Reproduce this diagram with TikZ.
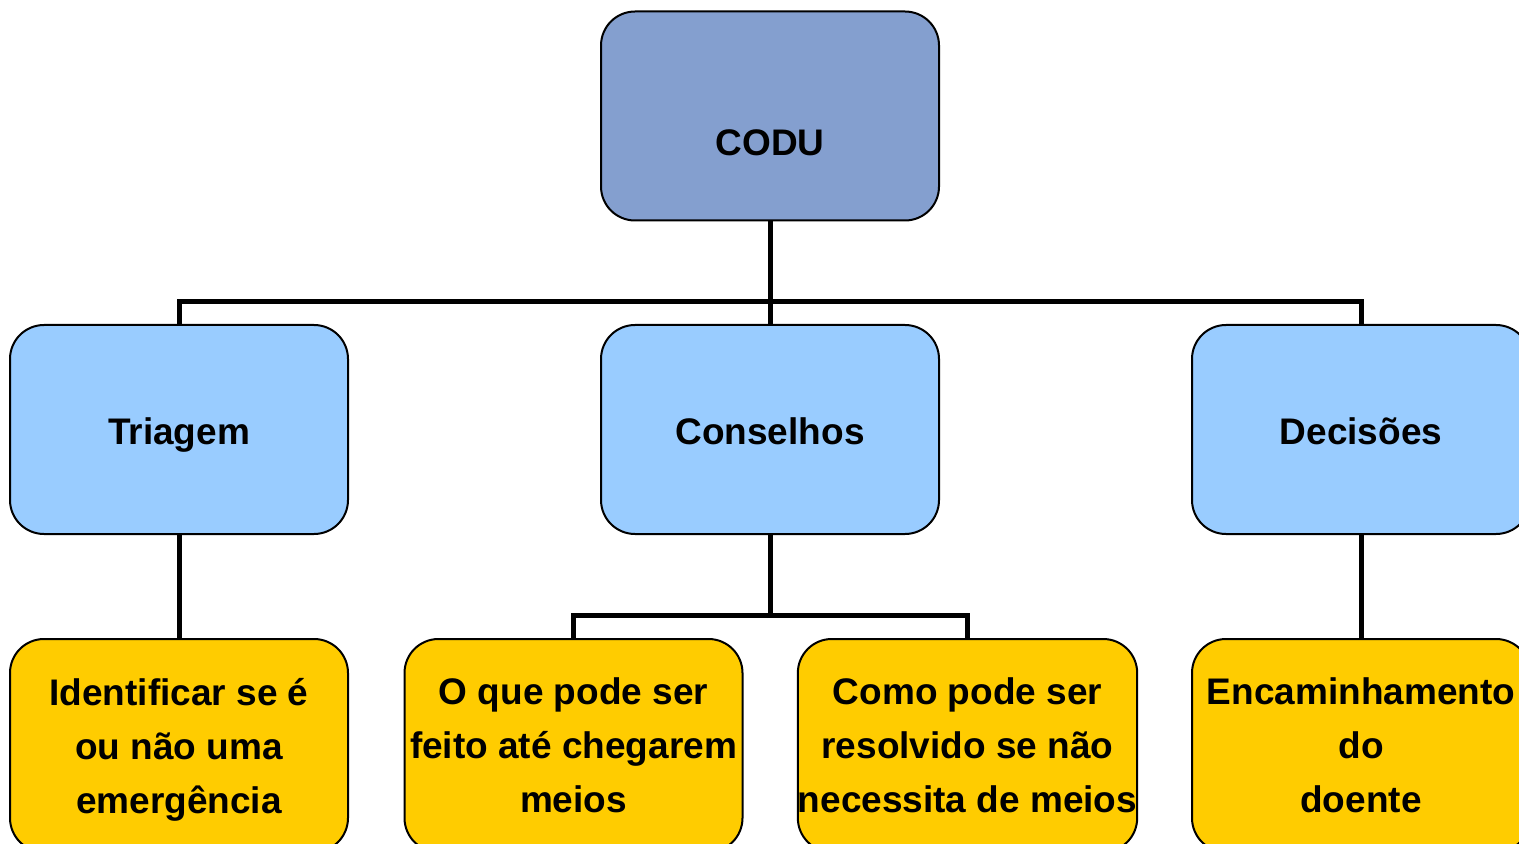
\documentclass[tikz,border=0pt]{standalone}
\usepackage{fontspec}
\setmainfont{Liberation Sans}
\usetikzlibrary{positioning}

\definecolor{codublue}{HTML}{849FCF}
\definecolor{lightblue}{HTML}{99CCFF}
\definecolor{goldbox}{HTML}{FFCC00}

\tikzset{
  box/.style={draw, line width=1pt, rounded corners=17pt, minimum width=169pt,
    minimum height=104.5pt, inner xsep=0pt, align=center,
    font=\fontsize{18.5}{27}\selectfont\bfseries},
  topbox/.style={box, fill=codublue},
  midbox/.style={box, fill=lightblue, text height=18.8pt, text depth=4pt},
  leafbox/.style={box, fill=goldbox, text depth=0pt, minimum height=106.5pt},
  conn/.style={line width=2.5pt}
}

\begin{document}
\begin{tikzpicture}[x=0.5pt,y=-0.5pt]
		\useasboundingbox (0,0) rectangle (1519,844);
		\clip (0,0) rectangle (1519,844);

		% top
		\draw (770,116) node[topbox] (codu) {};
		\node[font=\fontsize{18.5}{27}\selectfont\bfseries] (codutext) at (770,143) {CODU};

		% second row
		\draw (179,429.5) node[midbox] (triagem) {Triagem};
		\draw (770,429.5) node[midbox] (conselhos) {Conselhos};
		\draw (1361,429.5) node[midbox] (decisoes) {Decisões};

		% leaves
		\draw (179,745.5) node[leafbox] (identificar) {Identificar se é\\ou não uma\\emergência};
		\draw (573.5,745.5) node[leafbox] (oque) {O que pode ser\\feito até chegarem\\meios};
		\draw (967.5,745.5) node[leafbox] (como) {Como pode ser\\resolvido se não\\necessita de meios};
		\draw (1361,745.5) node[leafbox] (encaminhamento) {Encaminhamento\\do\\doente};

		% connectors
		\draw [conn] (codu.south) -- ++(0,80) coordinate (busTop) -| (triagem.north);
		\draw [conn] (busTop) -| (decisoes.north);
		\draw [conn] (busTop) -- (conselhos.north);
		\draw [conn] (triagem.south) -- (identificar.north);
		\draw [conn] (conselhos.south) -- ++(0,80) coordinate (busMid) -| (oque.north);
		\draw [conn] (busMid) -| (como.north);
		\draw [conn] (decisoes.south) -- (encaminhamento.north);
	\end{tikzpicture}
\end{document}
